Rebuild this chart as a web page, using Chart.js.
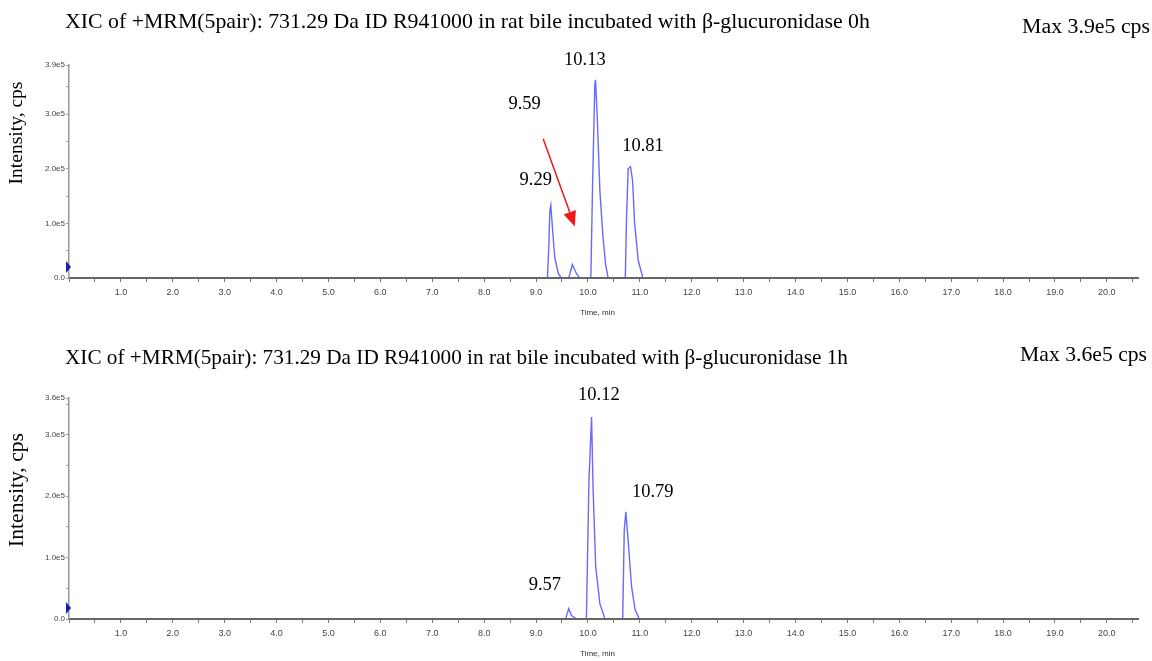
<!DOCTYPE html>
<html>
<head>
<meta charset="utf-8">
<script src="https://cdn.jsdelivr.net/npm/chart.js@4"></script>
<style>
  body { margin: 0; background: #fff; }
  canvas { position: absolute; left: 0; }
  #chart0h { top: 0; }
  #chart1h { top: 330px; }
</style>
</head>
<body>
<canvas id="chart0h" width="1152" height="330"></canvas>
<canvas id="chart1h" width="1152" height="331"></canvas>
<script>
// axe des temps (min)
const timeMax = 20.6;
const xMajorLabels = ['1.0','2.0','3.0','4.0','5.0','6.0','7.0','8.0','9.0','10.0',
  '11.0','12.0','13.0','14.0','15.0','16.0','17.0','18.0','19.0','20.0'];

// 0h
const times0 = [0, 9.22, 9.245, 9.266, 9.285, 9.32, 9.36, 9.43, 9.49,
  9.63, 9.70, 9.74, 9.78, 9.84,
  10.056, 10.09, 10.133, 10.146, 10.18, 10.23, 10.29, 10.34, 10.39,
  10.72, 10.744, 10.775, 10.82, 10.86, 10.90, 10.97, 11.06, 20.6];
const intensity0 = [0, 0, 0.55e5, 1.23e5, 1.33e5, 0.87e5, 0.38e5, 0.08e5, 0,
  0, 0.245e5, 0.16e5, 0.08e5, 0,
  0, 1.73e5, 3.55e5, 3.63e5, 2.94e5, 1.6e5, 0.75e5, 0.25e5, 0,
  0, 1.11e5, 2.0e5, 2.04e5, 1.79e5, 1.0e5, 0.32e5, 0, 0];
const yTicks0 = [0, 0.5e5, 1e5, 1.5e5, 2e5, 2.5e5, 3e5, 3.5e5, 3.9e5];
const peakLabels0 = ['9.59', '10.13', '9.29', '10.81'];
const labelTimes0 = [8.78, 9.94, 8.995, 11.06];
const labelLevels0 = [3.175e5, 3.98e5, 1.786e5, 2.41e5];
const arrowTimes0 = [9.137, 9.748];
const arrowLevels0 = [2.55e5, 0.945e5];

// 1h
const times1 = [0, 9.57, 9.63, 9.68, 9.78,
  9.97, 10.02, 10.07, 10.10, 10.15, 10.23, 10.33,
  10.67, 10.70, 10.73, 10.775, 10.84, 10.91, 10.99, 20.6];
const intensity1 = [0, 0, 0.17e5, 0.06e5, 0,
  0, 2.26e5, 3.29e5, 2.1e5, 0.85e5, 0.25e5, 0,
  0, 1.45e5, 1.745e5, 1.28e5, 0.53e5, 0.15e5, 0, 0];
const yTicks1 = [0, 0.5e5, 1e5, 1.5e5, 2e5, 2.5e5, 3e5, 3.5e5, 3.6e5];
const peakLabels1 = ['10.12', '10.79', '9.57'];
const labelTimes1 = [10.21, 11.25, 9.17];
const labelLevels1 = [3.64e5, 2.065e5, 0.553e5];

const SERIF = '"Liberation Serif", "Times New Roman", serif';
const NARROW = '"Liberation Sans Narrow", "Arial Narrow", "Liberation Sans", sans-serif';

// taille de police pour qu'un texte tienne dans une largeur donnée
const fitFont = (ctx, text, width) => {
  ctx.font = `20px ${SERIF}`;
  const size = 20 * width / ctx.measureText(text).width;
  return `${size.toFixed(2)}px ${SERIF}`;
};

const overlay = {
  id: 'overlay',
  afterDraw(chart, args, o) {
    const {ctx, chartArea: a, scales: {x, y}} = chart;
    ctx.save();
    ctx.fillStyle = '#000';
    ctx.textBaseline = 'middle';

    // titre + max
    ctx.textAlign = 'left';
    ctx.font = fitFont(ctx, o.title, o.titleWidth);
    ctx.fillText(o.title, 65, o.titleY);
    ctx.textAlign = 'right';
    ctx.font = fitFont(ctx, o.max, o.maxWidth);
    ctx.fillText(o.max, o.maxRight, o.maxY);

    // titre axe y
    ctx.save();
    ctx.translate(17, o.yTitleY);
    ctx.rotate(-Math.PI / 2);
    ctx.textAlign = 'center';
    ctx.font = fitFont(ctx, 'Intensity, cps', o.yTitleLen);
    ctx.fillText('Intensity, cps', 0, 0);
    ctx.restore();

    // titre axe x
    ctx.textAlign = 'center';
    ctx.fillStyle = '#333';
    ctx.font = `8px ${NARROW}`;
    ctx.fillText('Time, min', (a.left + a.right) / 2 - 6, a.bottom + 35);

    // repère bleu sur l'axe y
    const my = y.getPixelForValue(o.markerLevel);
    ctx.fillStyle = '#1c1caa';
    ctx.beginPath();
    ctx.moveTo(a.left - 3, my - 6);
    ctx.lineTo(a.left + 2, my);
    ctx.lineTo(a.left - 3, my + 6);
    ctx.closePath();
    ctx.fill();

    // étiquettes des pics
    ctx.fillStyle = '#000';
    ctx.font = `18.5px ${SERIF}`;
    o.labels.forEach((lab, i) => {
      ctx.fillText(lab, x.getPixelForValue(o.labelTimes[i]), y.getPixelForValue(o.labelLevels[i]));
    });

    // flèche rouge
    if (o.arrowTimes) {
      const x1 = x.getPixelForValue(o.arrowTimes[0]), y1 = y.getPixelForValue(o.arrowLevels[0]);
      const x2 = x.getPixelForValue(o.arrowTimes[1]), y2 = y.getPixelForValue(o.arrowLevels[1]);
      const ang = Math.atan2(y2 - y1, x2 - x1);
      const head = 15, half = 6.5;
      const bx = x2 - head * Math.cos(ang), by = y2 - head * Math.sin(ang);
      ctx.strokeStyle = '#f01818';
      ctx.fillStyle = '#f01818';
      ctx.lineWidth = 1.5;
      ctx.beginPath();
      ctx.moveTo(x1, y1);
      ctx.lineTo(bx, by);
      ctx.stroke();
      ctx.beginPath();
      ctx.moveTo(x2, y2);
      ctx.lineTo(bx + half * Math.sin(ang), by - half * Math.cos(ang));
      ctx.lineTo(bx - half * Math.sin(ang), by + half * Math.cos(ang));
      ctx.closePath();
      ctx.fill();
    }
    ctx.restore();
  }
};

const makeChart = (id, c) => new Chart(document.getElementById(id), {
  type: 'line',
  data: {
    datasets: [{
      data: c.times.map((t, i) => ({x: t, y: c.intensity[i]})),
      borderColor: 'rgb(105,105,252)',
      borderWidth: 1.4,
      pointRadius: 0,
      tension: 0,
      fill: false,
      // la ligne de base reste cachée sous l'axe
      clip: {left: 2, top: 20, right: 2, bottom: -1}
    }]
  },
  options: {
    responsive: false,
    animation: false,
    layout: {padding: {top: c.padTop, right: 14, left: 0, bottom: 0}},
    plugins: {
      legend: {display: false},
      tooltip: {enabled: false},
      overlay: c.overlay
    },
    scales: {
      x: {
        type: 'linear', min: 0, max: timeMax, z: 1,
        afterBuildTicks: s => {
          const t = [];
          for (let i = 0; i * 0.5 < timeMax; i++) t.push({value: i * 0.5});
          s.ticks = t;
        },
        afterFit: s => { s.height = c.xHeight; },
        ticks: {
          autoSkip: false, maxRotation: 0, padding: 5, color: '#444',
          font: {family: NARROW, size: 9},
          callback: v => (Number.isInteger(v) && v >= 1) ? xMajorLabels[v - 1] : ''
        },
        grid: {drawOnChartArea: false, tickLength: 4, color: '#777'},
        border: {color: '#666', width: 2}
      },
      y: {
        min: 0, max: c.yMax,
        afterBuildTicks: s => { s.ticks = c.yTicks.map(v => ({value: v})); },
        afterFit: s => { s.width = 69; },
        ticks: {
          padding: 1, color: '#444',
          font: {family: NARROW, size: 8},
          callback: v => v === 0 ? '0.0' : (v % 1e5 === 0 || v === c.yMax) ? (v / 1e5).toFixed(1) + 'e5' : ''
        },
        grid: {drawOnChartArea: false, tickLength: 3, color: '#999'},
        border: {color: '#999', width: 1.5}
      }
    }
  },
  plugins: [overlay]
});

const setup = () => {
  makeChart('chart0h', {
    times: times0, intensity: intensity0, yTicks: yTicks0, yMax: 3.9e5,
    padTop: 65, xHeight: 52,
    overlay: {
      title: 'XIC of +MRM(5pair): 731.29 Da ID R941000 in rat bile incubated with β-glucuronidase 0h',
      titleWidth: 805, titleY: 22,
      max: 'Max 3.9e5 cps', maxWidth: 128, maxRight: 1150, maxY: 27,
      yTitleY: 133, yTitleLen: 103, markerLevel: 0.2e5,
      labels: peakLabels0, labelTimes: labelTimes0, labelLevels: labelLevels0,
      arrowTimes: arrowTimes0, arrowLevels: arrowLevels0
    }
  });
  makeChart('chart1h', {
    times: times1, intensity: intensity1, yTicks: yTicks1, yMax: 3.6e5,
    padTop: 68, xHeight: 42,
    overlay: {
      title: 'XIC of +MRM(5pair): 731.29 Da ID R941000 in rat bile incubated with β-glucuronidase 1h',
      titleWidth: 783, titleY: 28,
      max: 'Max 3.6e5 cps', maxWidth: 127, maxRight: 1147, maxY: 25,
      yTitleY: 160, yTitleLen: 114, markerLevel: 0.18e5,
      labels: peakLabels1, labelTimes: labelTimes1, labelLevels: labelLevels1
    }
  });
};

window.addEventListener('DOMContentLoaded', setup);
</script>
</body>
</html>
